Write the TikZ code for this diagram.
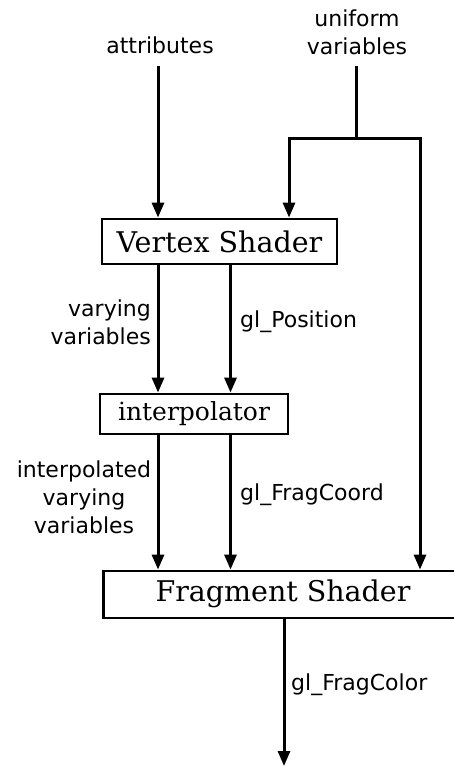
\documentclass[tikz,border=0pt]{standalone}
\usepackage{fontspec}
\setmainfont{DejaVu Serif}
\setsansfont{DejaVu Sans}
\usetikzlibrary{arrows.meta}
\tikzset{
  boxnode/.style={draw, line width=2.8pt, inner sep=0pt, font=\fontsize{28.5}{32}\selectfont},
  lbl/.style={font=\sffamily\fontsize{22}{28}\selectfont, inner sep=0pt, align=center},
  conn/.style={line width=3pt, -{Triangle[length=15pt,width=12pt]}},
  plain/.style={line width=3pt}
}
\begin{document}
\begin{tikzpicture}[x=1pt,y=-1pt]
\useasboundingbox (0,0) rectangle (454,767);
\node[lbl] (attr) at (160,45) {attributes};
\node[lbl] (unif) at (357,32) {uniform\\variables};
\node[boxnode, minimum width=235pt, minimum height=45pt] (vs) at (219.5,241.5) {Vertex Shader};
\node[boxnode, minimum width=188pt, minimum height=40pt, font=\fontsize{25}{28}\selectfont] (interp) at (194,414) {interpolator};
\node[boxnode, minimum width=360pt, minimum height=47pt, anchor=west] (fs) at (102,594.5) {};
\node[font=\fontsize{28.5}{32}\selectfont] (fstext) at (283,594) {Fragment Shader};
\coordinate (attrtop) at (158,66);
\coordinate (mid) at (230.5,300);
\coordinate (uniftop) at (356,66);
\coordinate (junc) at (356,139);
\coordinate (jl) at (289,139);
\coordinate (jr) at (420,139);
\coordinate (outend) at (284,766);
\draw[conn] (attrtop) -- (attrtop |- vs.north);
\draw[plain] (uniftop) -- (junc);
\draw[plain, line join=miter] (jl |- vs.north) ++(0,-12) -- (jl) -- (jr) -- ++(0,10);
\draw[conn] (jl) -- (jl |- vs.north);
\draw[conn] (jr) -- (jr |- fs.north);
\draw[conn] (vs.south -| attrtop) -- (interp.north -| attrtop);
\draw[conn] (vs.south -| mid) -- (interp.north -| mid);
\draw[conn] (interp.south -| attrtop) -- (fs.north -| attrtop);
\draw[conn] (interp.south -| mid) -- (fs.north -| mid);
\draw[conn] (fs.south -| outend) -- (outend);
\node[lbl, align=right, anchor=east] (vv) at (151,322) {varying\\variables};
\node[lbl, anchor=west] (glpos) at (240,322) {gl\_Position};
\node[lbl] (ivv) at (84,497) {interpolated\\varying\\variables};
\node[lbl, anchor=west] (glfc) at (240,495) {gl\_FragCoord};
\node[lbl, anchor=west] (glcol) at (291,685) {gl\_FragColor};
\end{tikzpicture}
\end{document}
